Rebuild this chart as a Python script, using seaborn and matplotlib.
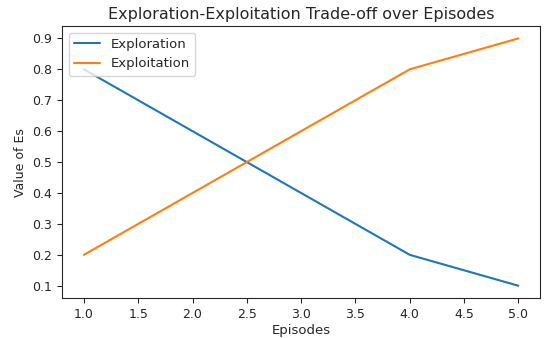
import matplotlib
matplotlib.use('agg')
import matplotlib.pyplot as plt
import seaborn as sns

episodes = [1, 2, 3, 4, 5]
exploration = [0.8, 0.6, 0.4, 0.2, 0.1]
exploitation = [0.2, 0.4, 0.6, 0.8, 0.9]

sns.set_style('ticks')
plt.rcParams['font.family'] = ['DejaVu Sans']

fig = plt.figure(figsize=(5.5, 3.38), dpi=100)
ax = fig.add_axes([0.113, 0.118, 0.869, 0.805])
sns.lineplot(x=episodes, y=exploration, ax=ax, color='#1f77b4', label='Exploration', linewidth=1.5)
sns.lineplot(x=episodes, y=exploitation, ax=ax, color='#ff7f0e', label='Exploitation', linewidth=1.5)

ax.set_title('Exploration-Exploitation Trade-off over Episodes', fontsize=11.5, pad=5)
ax.set_xlabel('Episodes', fontsize=9.5, labelpad=2)
ax.set_ylabel('Value of Es', fontsize=9)
ax.tick_params(labelsize=9)
ax.set_xticks([1.0, 1.5, 2.0, 2.5, 3.0, 3.5, 4.0, 4.5, 5.0])
ax.set_yticks([0.1, 0.2, 0.3, 0.4, 0.5, 0.6, 0.7, 0.8, 0.9])
for s in ax.spines.values():
    s.set_visible(True)
ax.legend(loc='upper left', fontsize=9.5)

plt.savefig('out.png', dpi=100)
